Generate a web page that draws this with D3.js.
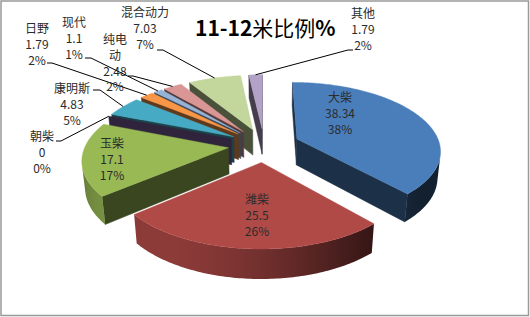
<!DOCTYPE html>
<html>
<head>
<meta charset="utf-8">
<script src="https://cdn.jsdelivr.net/npm/d3@7"></script>
<style>
  body { margin: 0; background: #fff; }
  text { font-family: "Noto Sans CJK SC", "Noto Sans", sans-serif; }
</style>
</head>
<body>
<script>
// data
var names = ["大柴", "潍柴", "玉柴", "朝柴", "康明斯", "日野", "现代", "纯电动", "混合动力", "其他"];
var values = [38.34, 25.5, 17.1, 0, 4.83, 1.79, 1.1, 2.48, 7.03, 1.79];
var colors = ["#4A7EBB", "#B04A47", "#98B954", "#7D60A0", "#46AAC5", "#F79646", "#95B3D7", "#D99694", "#C3D69B", "#B3A2C7"];
var title = ["11-12", "米比例", "%"];

// label layout: centre x, first line y, and leader elbow [x0, x1, y] (null = inside)
var labelPos = [[340, 98], [257, 200], [112, 144], [42, 137], [72, 89], [37, 29], [74, 23], [115, 40], [145, 13], [363, 14]];
var leaders = [null, null, null, [56, 61, 141], [93, 100, 90], [47, 52, 63], [85, 91, 58], [128, 133, 76], [157, 163, 50], [353, 348, 50]];

var width = 530, height = 317;

var svg = d3.select("body").append("svg")
  .attr("width", width)
  .attr("height", height);

svg.append("rect")
  .attr("x", 1).attr("y", 1)
  .attr("width", 527.5).attr("height", 314.5)
  .attr("fill", "#fff")
  .attr("stroke", "#999")
  .attr("stroke-width", 1.5);

var defs = svg.append("defs");

// 3d projection of the pie plane
var alpha = 28 * Math.PI / 180,
    camD = 5.7,
    F = 143,
    cx = 264, cy = 145,
    thick = 0.21,
    explode = 0.25;

var cam = [0, -camD * Math.cos(alpha), camD * Math.sin(alpha)];

function project(u, w, h) {
  var yc = w * Math.sin(alpha) + h * Math.cos(alpha);
  var zc = w * Math.cos(alpha) - h * Math.sin(alpha) + camD;
  var s = camD / zc;
  return [cx + F * u * s, cy - F * yc * s];
}

function facing(n, p) {
  return n[0] * (cam[0] - p[0]) + n[1] * (cam[1] - p[1]) + n[2] * (cam[2] - p[2]) > 0;
}

function shade(c, b) {
  var r = d3.rgb(c);
  return d3.rgb(r.r * b, r.g * b, r.b * b).formatHex();
}

var color = d3.scaleOrdinal().domain(names).range(colors);

var pie = d3.pie().sort(null).value(function(d) { return d; });
var arcs = pie(values);
var total = d3.sum(values);

var line = d3.line();
var light = [-0.6, -0.8];

var order = d3.range(arcs.length).sort(function(a, b) {
  var ma = (arcs[a].startAngle + arcs[a].endAngle) / 2,
      mb = (arcs[b].startAngle + arcs[b].endAngle) / 2;
  return Math.cos(mb) - Math.cos(ma);
});

var g = svg.append("g").attr("class", "pie");

order.forEach(function(i) {
  var d = arcs[i];
  var c = color(names[i]);
  var a0 = d.startAngle, a1 = d.endAngle, mid = (a0 + a1) / 2;
  var ox = explode * Math.sin(mid), ow = explode * Math.cos(mid);
  var pt = function(a, r, h) { return project(ox + r * Math.sin(a), ow + r * Math.cos(a), h); };

  // radial faces
  [[a0, [-Math.cos(a0), Math.sin(a0), 0]], [a1, [Math.cos(a1), -Math.sin(a1), 0]]].forEach(function(f) {
    var a = f[0];
    var p = [ox + 0.5 * Math.sin(a), ow + 0.5 * Math.cos(a), -thick / 2];
    if (!facing(f[1], p)) return;
    g.append("path")
      .attr("d", line([pt(a, 0, 0), pt(a, 1, 0), pt(a, 1, -thick), pt(a, 0, -thick)]) + "Z")
      .attr("fill", shade(c, 0.38))
      .attr("stroke", shade(c, 0.38))
      .attr("stroke-width", 0.5);
  });

  // outer wall, split into visible runs
  var n = Math.max(2, Math.ceil((a1 - a0) * 60));
  var runs = [], run = null;
  for (var k = 0; k < n; k++) {
    var t0 = a0 + (a1 - a0) * k / n, t1 = a0 + (a1 - a0) * (k + 1) / n, tm = (t0 + t1) / 2;
    var nn = [Math.sin(tm), Math.cos(tm), 0];
    var p = [ox + nn[0], ow + nn[1], -thick / 2];
    if (facing(nn, p)) {
      if (!run) { run = [t0]; runs.push(run); }
      run.push(t1);
    } else {
      run = null;
    }
  }
  runs.forEach(function(r, ri) {
    var top = r.map(function(a) { return pt(a, 1, 0); });
    var bot = r.map(function(a) { return pt(a, 1, -thick); }).reverse();
    var xs = top.map(function(p) { return p[0]; });
    var x0 = d3.min(xs), x1 = d3.max(xs);
    var id = "wall" + i + "_" + ri;
    var grad = defs.append("linearGradient")
      .attr("id", id)
      .attr("gradientUnits", "userSpaceOnUse")
      .attr("x1", x0).attr("x2", x1).attr("y1", 0).attr("y2", 0);
    var stops = r.map(function(a, k) {
      var dot = Math.max(0, Math.sin(a) * light[0] + Math.cos(a) * light[1]);
      return { off: x1 > x0 ? (xs[k] - x0) / (x1 - x0) : 0, b: 0.25 + 0.55 * Math.pow(dot, 1.5) };
    }).sort(function(p, q) { return p.off - q.off; });
    grad.selectAll("stop").data(stops).enter().append("stop")
      .attr("offset", function(s) { return s.off; })
      .attr("stop-color", function(s) { return shade(c, s.b); });
    g.append("path")
      .attr("d", line(top.concat(bot)) + "Z")
      .attr("fill", "url(#" + id + ")")
      .attr("stroke", "none");
  });

  // top face
  if (a1 > a0) {
    var pts = [pt(a0, 0, 0)];
    for (var k = 0; k <= n; k++) pts.push(pt(a0 + (a1 - a0) * k / n, 1, 0));
    g.append("path")
      .attr("d", line(pts) + "Z")
      .attr("fill", c)
      .attr("stroke", c)
      .attr("stroke-width", 0.4);
  }
});

// leader lines
var leaderG = svg.append("g").attr("class", "leaders");
leaders.forEach(function(l, i) {
  if (!l) return;
  var d = arcs[i], mid = (d.startAngle + d.endAngle) / 2;
  var end = project(1.25 * Math.sin(mid), 1.25 * Math.cos(mid), 0);
  leaderG.append("path")
    .attr("d", line([[l[0], l[2]], [l[1], l[2]], end]))
    .attr("fill", "none")
    .attr("stroke", "#000")
    .attr("stroke-width", 1);
});

// labels
var labelG = svg.append("g").attr("class", "labels");
arcs.forEach(function(d, i) {
  var nm = names[i] === "纯电动" ? ["纯电", "动"] : [names[i]];
  var lines = nm.concat([String(values[i]), Math.round(values[i] / total * 100) + "%"]);
  var t = labelG.append("text")
    .attr("text-anchor", "middle")
    .style("font-size", "12px")
    .style("fill", "#2b2b2b");
  lines.forEach(function(s, k) {
    t.append("tspan")
      .attr("x", labelPos[i][0])
      .attr("y", labelPos[i][1] + k * 15.7)
      .attr("dy", "0.36em")
      .text(s);
  });
});

// title
var tt = svg.append("text")
  .attr("x", 195).attr("y", 36)
  .style("font-size", "21px")
  .style("fill", "#000");
tt.append("tspan").style("font-weight", "bold").text(title[0]);
tt.append("tspan").text(title[1]);
tt.append("tspan").style("font-weight", "bold").text(title[2]);
</script>
</body>
</html>
